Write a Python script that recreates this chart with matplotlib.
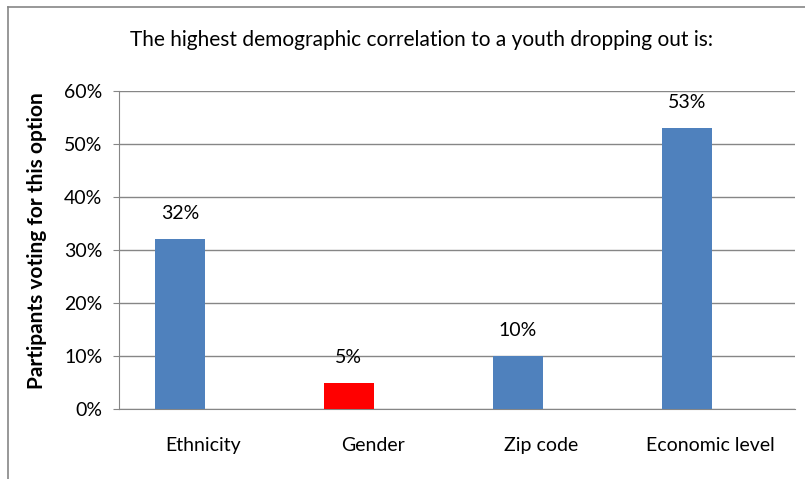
import numpy as np
import matplotlib.pyplot as plt
from matplotlib.lines import Line2D

plt.rcParams['font.family'] = ['Lato', 'DejaVu Sans']

categories = ['Ethnicity', 'Gender', 'Zip code', 'Economic level']
values = [32, 5, 10, 53]
labels = ['32%', '5%', '10%', '53%']
colors = ['#4F81BD', '#FF0000', '#4F81BD', '#4F81BD']

fig = plt.figure(figsize=(8.05, 4.79), dpi=100)
ax = fig.add_axes([119/805, 1 - 409/479, (795-119)/805, (409-91)/479])

x = np.arange(len(categories))
# bars sit left of the category centre (clustered layout with an empty 2nd series)
xb = x - 0.14
ax.bar(xb, values, width=0.295, color=colors, zorder=3)
for xi, v, lab in zip(xb, values, labels):
    ax.text(xi, v + 3.2, lab, ha='center', va='bottom', fontsize=14)

ax.set_xlim(-0.5, 3.5)
ax.set_ylim(0, 60)
ax.set_yticks(np.arange(0, 61, 10))
ax.set_yticklabels(['%d%%' % t for t in range(0, 61, 10)], fontsize=14)
ax.set_xticks(x)
ax.set_xticklabels(categories, fontsize=14)
ax.tick_params(axis='x', length=0, pad=20)
ax.tick_params(axis='y', length=4, color='#868686', pad=8)
ax.yaxis.grid(True, color='#868686', linewidth=1)
for s in ['top', 'right']:
    ax.spines[s].set_visible(False)
for s in ['left', 'bottom']:
    ax.spines[s].set_color('#868686')
ax.set_ylabel('Partipants voting for this option', fontsize=15, fontweight='bold')
ax.yaxis.set_label_coords(-0.106, 0.53)

fig.text(421/805, 1 - 40/479, 'The highest demographic correlation to a youth dropping out is:',
         ha='center', va='center', fontsize=15)

# outer chart border
fig.add_artist(Line2D([8/805, 8/805], [0, 1 - 7/479], color='#868686', lw=1.2, transform=fig.transFigure))
fig.add_artist(Line2D([8/805, 1], [1 - 7/479, 1 - 7/479], color='#868686', lw=1.2, transform=fig.transFigure))

plt.savefig('out.png', dpi=100)
